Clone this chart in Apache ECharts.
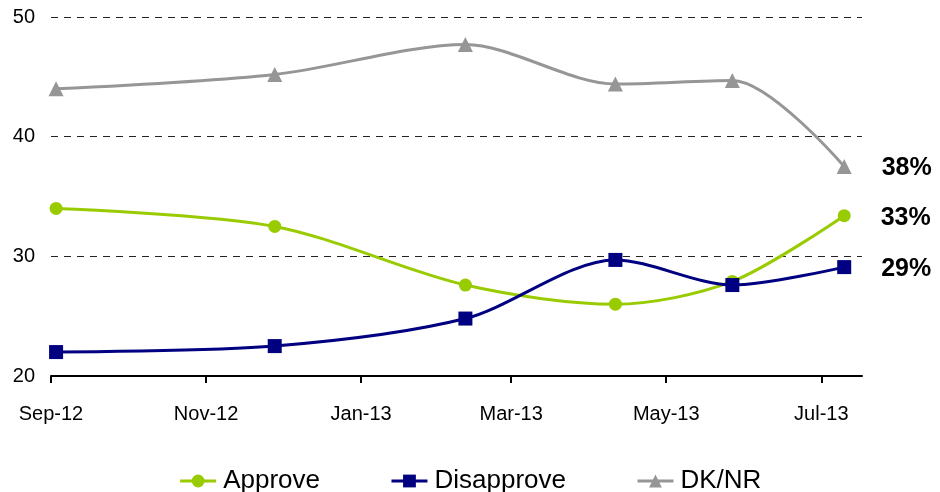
<!DOCTYPE html>
<html>
<head>
<meta charset="utf-8">
<script src="https://cdn.jsdelivr.net/npm/echarts@6/dist/echarts.min.js"></script>
<style>html,body{margin:0;padding:0;background:#fff}#c{width:940px;height:492px}</style>
</head>
<body>
<div id="c"></div>
<script>
var dates = ['2012-09-03','2012-11-28','2013-02-11','2013-04-11','2013-05-27','2013-07-10'];
var approve = [34, 32.5, 27.6, 26, 27.9, 33.4];
var disapprove = [22, 22.5, 24.8, 29.7, 27.6, 29.1];
var dknr = [44, 45.2, 47.7, 44.4, 44.7, 37.5];
var endLabels = {Approve: '33%', Disapprove: '29%', 'DK/NR': '38%'};
var tickDates = ['2012-09-01','2012-11-01','2013-01-01','2013-03-01','2013-05-01','2013-07-01'];
var tickLabels = ['Sep-12','Nov-12','Jan-13','Mar-13','May-13','Jul-13'];
var yTicks = [20, 30, 40, 50];

function ts(s){var p=s.split('-');return Date.UTC(+p[0],+p[1]-1,+p[2])/86400000;}
var tickTs = tickDates.map(ts);

function build(name, vals, color, symbol, size){
  var data = vals.map(function(v,i){
    var d = {value:[ts(dates[i]), v]};
    if(i===vals.length-1){
      d.label = {show:true, position:'right', distance:30, offset:[0,2], formatter:endLabels[name],
        fontFamily:'Liberation Sans, Arial', fontWeight:'bold', fontSize:25, color:'#000'};
    }
    return d;
  });
  return {name:name, type:'line', data:data, smooth:0.3, symbol:symbol, symbolSize:size,
    showAllSymbol:true,
    lineStyle:{color:color, width:3}, itemStyle:{color:color},
    emphasis:{disabled:true}};
}

var chart = echarts.init(document.getElementById('c'));
chart.setOption({
  animation:false,
  textStyle:{fontFamily:'Liberation Sans, Arial'},
  grid:{left:51, right:78, top:17, bottom:116, containLabel:false},
  legend:{
    top:463, left:'center', itemWidth:36, itemHeight:16, itemGap:70,
    lineStyle:{width:3},
    textStyle:{fontSize:26, color:'#000', fontFamily:'Liberation Sans, Arial', padding:[0,0,0,2]},
    data:['Approve','Disapprove','DK/NR']
  },
  xAxis:{
    type:'value', min:ts('2012-09-01'), max:ts('2013-07-17'),
    axisLine:{show:true, lineStyle:{color:'#000', width:2}},
    axisTick:{show:true, length:7, lineStyle:{color:'#000', width:2}, customValues:tickTs},
    axisLabel:{customValues:tickTs, margin:28, fontSize:20, color:'#000',
      formatter:function(v){var i=tickTs.indexOf(v);return i>=0?tickLabels[i]:'';}},
    splitLine:{show:false}
  },
  yAxis:{
    type:'value', min:yTicks[0], max:yTicks[yTicks.length-1], interval:10,
    axisLine:{show:false}, axisTick:{show:false},
    axisLabel:{fontSize:20, color:'#000', margin:16},
    splitLine:{show:true, lineStyle:{color:'#222', type:[7,6], width:1}}
  },
  series:[
    build('Approve', approve, '#99CC00', 'circle', 13),
    build('Disapprove', disapprove, '#000080', 'rect', 14),
    build('DK/NR', dknr, '#969696', 'triangle', 15)
  ]
});
</script>
</body>
</html>
